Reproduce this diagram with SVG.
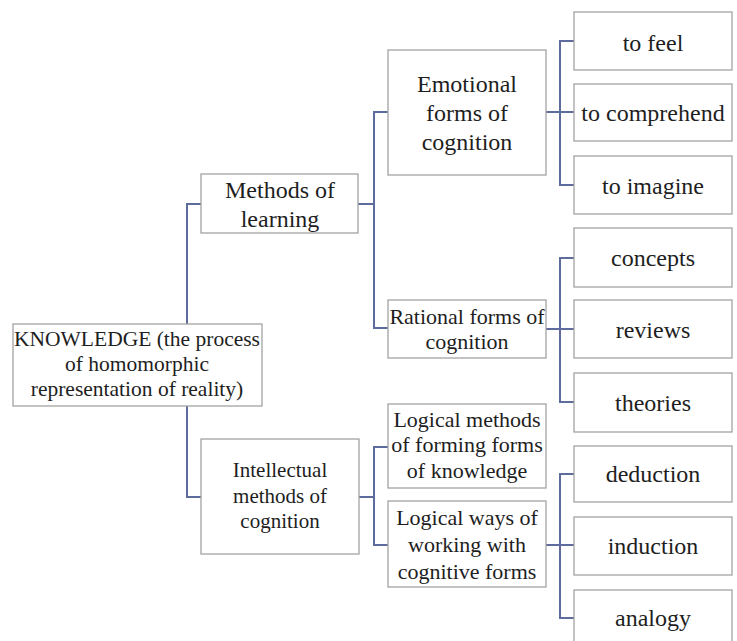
<svg xmlns="http://www.w3.org/2000/svg" width="737" height="641" viewBox="0 0 737 641">
<style>
.box{fill:#fff;stroke:#a3a3a3;stroke-width:1.3}
.t{font-family:"Liberation Serif","Times New Roman",serif;fill:#1e1e1e;text-anchor:middle}
.s24{font-size:24px}
.s22{font-size:22px}
.s215{font-size:21.5px}
.s21{font-size:21px}
.c{fill:none;stroke:#5d6c9c;stroke-width:2}
</style>
<rect width="737" height="641" fill="#fff"/>
<g id="connectors">
<path class="c" d="M201 204 H187 V324 M187 406 V497 H201"/>
<path class="c" d="M358 204 H374 M388 112 H374 V328 H388"/>
<path class="c" d="M359 497 H374 M388 447 H374 V545 H388"/>
<path class="c" d="M546 112 H574 M574 41 H560 V185 H574"/>
<path class="c" d="M546 329 H574 M574 258 H560 V402 H574"/>
<path class="c" d="M546 545 H574 M574 474 H560 V618 H574"/>
</g>
<g id="knowledge"><rect class="box" x="13" y="324" width="249" height="82"/>
<text class="t s215" x="137" y="346">KNOWLEDGE (the process</text>
<text class="t s215" x="137" y="371">of homomorphic</text>
<text class="t s215" x="137" y="396">representation of reality)</text></g>
<g id="methods"><rect class="box" x="201" y="174" width="157" height="59"/>
<text class="t s24" x="280" y="198">Methods of</text>
<text class="t s24" x="280" y="227">learning</text></g>
<g id="intellectual"><rect class="box" x="201" y="439" width="158" height="115"/>
<text class="t s21" x="280" y="477">Intellectual</text>
<text class="t s21" x="280" y="503">methods of</text>
<text class="t s21" x="280" y="528">cognition</text></g>
<g id="emotional"><rect class="box" x="388" y="50" width="158" height="125"/>
<text class="t s24" x="467" y="92">Emotional</text>
<text class="t s24" x="467" y="121">forms of</text>
<text class="t s24" x="467" y="150">cognition</text></g>
<g id="rational"><rect class="box" x="388" y="300" width="158" height="58"/>
<text class="t s22" x="467" y="324">Rational forms of</text>
<text class="t s22" x="467" y="349">cognition</text></g>
<g id="logical-methods"><rect class="box" x="388" y="404" width="158" height="84"/>
<text class="t s22" x="467" y="427">Logical methods</text>
<text class="t s22" x="467" y="452">of forming forms</text>
<text class="t s22" x="467" y="478">of knowledge</text></g>
<g id="logical-ways"><rect class="box" x="388" y="501" width="158" height="86"/>
<text class="t s22" x="467" y="525">Logical ways of</text>
<text class="t s22" x="467" y="552">working with</text>
<text class="t s22" x="467" y="579">cognitive forms</text></g>
<g id="to-feel"><rect class="box" x="574" y="12" width="158" height="58"/><text class="t s24" x="653" y="51">to feel</text></g>
<g id="to-comprehend"><rect class="box" x="574" y="84" width="158" height="57"/><text class="t s24" x="653" y="121">to comprehend</text></g>
<g id="to-imagine"><rect class="box" x="574" y="156" width="158" height="58"/><text class="t s24" x="653" y="194">to imagine</text></g>
<g id="concepts"><rect class="box" x="574" y="228" width="158" height="59"/><text class="t s24" x="653" y="266">concepts</text></g>
<g id="reviews"><rect class="box" x="574" y="300" width="158" height="58"/><text class="t s24" x="653" y="338">reviews</text></g>
<g id="theories"><rect class="box" x="574" y="373" width="158" height="59"/><text class="t s24" x="653" y="411">theories</text></g>
<g id="deduction"><rect class="box" x="574" y="446" width="158" height="56"/><text class="t s24" x="653" y="482">deduction</text></g>
<g id="induction"><rect class="box" x="574" y="517" width="158" height="58"/><text class="t s24" x="653" y="554">induction</text></g>
<g id="analogy"><rect class="box" x="574" y="590" width="158" height="58"/><text class="t s24" x="653" y="626">analogy</text></g>
</svg>
